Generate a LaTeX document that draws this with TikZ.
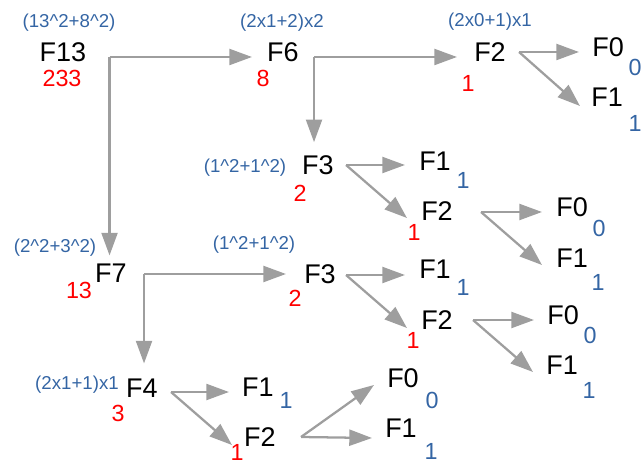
\documentclass[tikz,border=0pt]{standalone}
\usepackage{fontspec}
\setmainfont{Liberation Sans}
\usetikzlibrary{arrows.meta}
\definecolor{lblue}{RGB}{52,101,164}
\definecolor{agrey}{RGB}{158,158,158}
\tikzset{
  fn/.style={font=\fontsize{20.25pt}{22pt}\selectfont, inner sep=0pt},
  fl/.style={font=\fontsize{14pt}{15pt}\selectfont, text=lblue, inner sep=0pt},
  rv/.style={font=\fontsize{17.5pt}{19pt}\selectfont, text=red, inner sep=0pt},
  bv/.style={font=\fontsize{17.5pt}{19pt}\selectfont, text=lblue, inner sep=0pt},
  arr/.style={draw=agrey, line width=1.7pt, -{Triangle[length=17pt,width=12pt]}},
}
\begin{document}
\begin{tikzpicture}[x=0.75pt,y=-0.75pt]
\useasboundingbox (0,0) rectangle (642,463);
% main nodes
\node[fn] (n13) at (63,52) {F13};
\node[fn] (n6) at (283,52) {F6};
\node[fn] (n2a) at (490,52) {F2};
\node[fn] (n0a) at (608,47) {F0};
\node[fn] (n1a) at (607,97) {F1};
\node[fn] (n3a) at (318,165) {F3};
\node[fn] (n1b) at (435,161) {F1};
\node[fn] (n2b) at (437,211) {F2};
\node[fn] (n0b) at (572,207) {F0};
\node[fn] (n1c) at (572,258) {F1};
\node[fn] (n7) at (111,273) {F7};
\node[fn] (n3b) at (320,274) {F3};
\node[fn] (n1d) at (435,269) {F1};
\node[fn] (n2c) at (437,320) {F2};
\node[fn] (n0c) at (563,315) {F0};
\node[fn] (n1e) at (562,365) {F1};
\node[fn] (n4) at (142,388) {F4};
\node[fn] (n1f) at (258,387) {F1};
\node[fn] (n2d) at (260,437) {F2};
\node[fn] (n0d) at (403,378) {F0};
\node[fn] (n1g) at (401,428) {F1};
% formula labels
\node[fl] (l13) at (69,23) {(13\textasciicircum 2+8\textasciicircum 2)};
\node[fl] (l6) at (282,23) {(2x1+2)x2};
\node[fl] (l2a) at (490,22) {(2x0+1)x1};
\node[fl] (l3a) at (245,168) {(1\textasciicircum 2+1\textasciicircum 2)};
\node[fl] (l7) at (55,248) {(2\textasciicircum 2+3\textasciicircum 2)};
\node[fl] (l3b) at (254,245) {(1\textasciicircum 2+1\textasciicircum 2)};
\node[fl] (l4) at (77,385) {(2x1+1)x1};
% red values
\node[rv] (r13) at (62,78) {233};
\node[rv] (r6) at (263,78) {8};
\node[rv] (r2a) at (468,83) {1};
\node[rv] (r3a) at (300,193) {2};
\node[rv] (r2b) at (414,232) {1};
\node[rv] (r7) at (79,290) {13};
\node[rv] (r3b) at (295,298) {2};
\node[rv] (r2c) at (413,340) {1};
\node[rv] (r4) at (118,413) {3};
\node[rv] (r2d) at (237,452) {1};
% blue values
\node[bv] (b0a) at (635,67) {0};
\node[bv] (b1a) at (635,123) {1};
\node[bv] (b1b) at (463,180) {1};
\node[bv] (b0b) at (599,228) {0};
\node[bv] (b1c) at (598,282) {1};
\node[bv] (b1d) at (463,287) {1};
\node[bv] (b0c) at (590,335) {0};
\node[bv] (b1e) at (589,390) {1};
\node[bv] (b1f) at (286,400) {1};
\node[bv] (b0d) at (432,400) {0};
\node[bv] (b1g) at (431,451) {1};
% branch points
\coordinate (c13) at ([shift={(23,5)}]n13.east);
\coordinate (c6) at ([shift={(15,5)}]n6.east);
\coordinate (c2a) at ([shift={(13,0)}]n2a.east);
\coordinate (c3a) at ([shift={(12,0)}]n3a.east);
\coordinate (c2b) at ([shift={(28,1)}]n2b.east);
\coordinate (c7) at ([shift={(17,1)}]n7.east);
\coordinate (c3b) at ([shift={(10,1)}]n3b.east);
\coordinate (c2c) at ([shift={(20,0)}]n2c.east);
\coordinate (c4) at ([shift={(13,4)}]n4.east);
\coordinate (c2d) at ([shift={(25,0)}]n2d.east);
% connectors
\draw[arr] (c13) -- ([shift={(-15,5)}]n6.west);
\draw[arr] (c13) -- (c13 |- n7.north) [shorten >=6pt];
\draw[arr] (c6) -- ([shift={(-17,5)}]n2a.west);
\draw[arr] (c6) -- (c6 |- n3a.north) [shorten >=9.75pt];
\draw[arr] (c2a) -- ([shift={(-13,5)}]n0a.west);
\draw[arr] (c2a) -- ([shift={(-11,9)}]n1a.west);
\draw[arr] (c3a) -- ([shift={(-14,4)}]n1b.west);
\draw[arr] (c3a) -- ([shift={(-14,7)}]n2b.west);
\draw[arr] (c2b) -- ([shift={(-14,5)}]n0b.west);
\draw[arr] (c2b) -- ([shift={(-14,7)}]n1c.west);
\draw[arr] (c7) -- ([shift={(-18,0)}]n3b.west);
\draw[arr] (c7) -- (c7 |- n4.north) [shorten >=11.25pt];
\draw[arr] (c3b) -- ([shift={(-14,6)}]n1d.west);
\draw[arr] (c3b) -- ([shift={(-14,8)}]n2c.west);
\draw[arr] (c2c) -- ([shift={(-13,5)}]n0c.west);
\draw[arr] (c2c) -- ([shift={(-13,7)}]n1e.west);
\draw[arr] (c4) -- ([shift={(-13,5)}]n1f.west);
\draw[arr] (c4) -- ([shift={(-12,8)}]n2d.west);
\draw[arr] (c2d) -- ([shift={(-13,7)}]n0d.west);
\draw[arr] (c2d) -- ([shift={(-13,10)}]n1g.west);
\end{tikzpicture}
\end{document}
